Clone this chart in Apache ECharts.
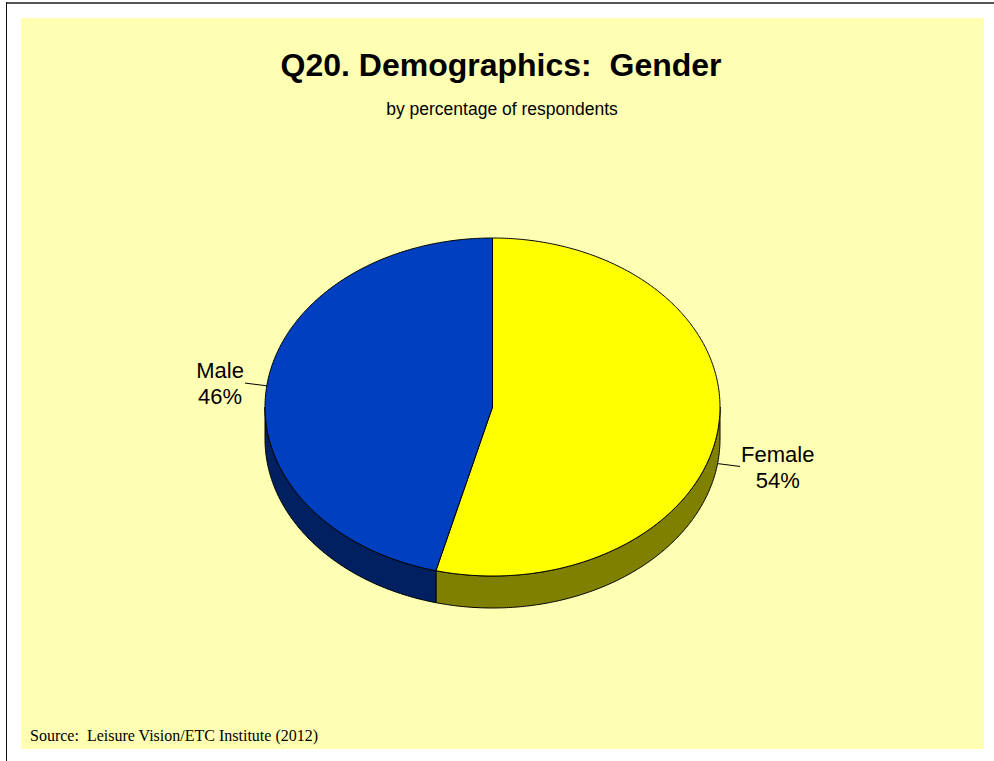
<!DOCTYPE html>
<html>
<head>
<meta charset="utf-8">
<title>Q20. Demographics: Gender</title>
<script src="https://cdn.jsdelivr.net/npm/echarts@6/dist/echarts.min.js"></script>
<style>
  html, body { margin: 0; padding: 0; background: #ffffff; }
  #chart { width: 994px; height: 761px; }
</style>
</head>
<body>
<div id="chart"></div>
<script>
// Survey answers (share of respondents, %)
const categories = ['Female', 'Male'];
const percentages = [54, 46];

// Slice styling: face colour and darker wall colour
const faceColors = ['#FFFF00', '#0040C0'];
const wallColors = ['#808000', '#002060'];

// Tilted pie geometry (pixels)
const PIE = { cx: 492.5, cy: 407, rx: 227.5, ry: 169, depth: 32 };
const LABEL_FONT = '22px "Liberation Sans", Arial, sans-serif';
const LABEL_LINE_HEIGHT = 26;
const LEADER_LEN = 22;
const FRONT_ANCHOR_DROP = 3.5;

const total = percentages.reduce((a, b) => a + b, 0);

// angle measured clockwise from 12 o'clock, in degrees
function ellipsePoint(deg, dy) {
  const t = deg * Math.PI / 180;
  return [PIE.cx + PIE.rx * Math.sin(t), PIE.cy - PIE.ry * Math.cos(t) + (dy || 0)];
}
function arcPoints(a0, a1, dy) {
  const pts = [];
  const n = Math.max(2, Math.ceil(Math.abs(a1 - a0) / 0.5));
  for (let i = 0; i <= n; i++) pts.push(ellipsePoint(a0 + (a1 - a0) * i / n, dy));
  return pts;
}

const measureCtx = document.createElement('canvas').getContext('2d');
function blockWidth(text) {
  measureCtx.font = LABEL_FONT;
  return Math.max.apply(null, text.split('\n').map(s => measureCtx.measureText(s).width));
}

function renderSlice(params, api) {
  const idx = params.dataIndex;
  const value = api.value(1);
  let before = 0;
  for (let i = 0; i < idx; i++) before += percentages[i];
  const a0 = before / total * 360;
  const a1 = (before + value) / total * 360;
  const children = [];

  // front wall: only the part of the rim facing the viewer (90..270 deg)
  const v0 = Math.max(a0, 90), v1 = Math.min(a1, 270);
  if (v1 > v0) {
    const pts = arcPoints(v0, v1, 0).concat(arcPoints(v1, v0, PIE.depth));
    children.push({
      type: 'polygon',
      shape: { points: pts },
      style: { fill: wallColors[idx], stroke: '#000', lineWidth: 1, lineJoin: 'round' },
      z2: 1
    });
  }

  // top face
  const top = [[PIE.cx, PIE.cy]].concat(arcPoints(a0, a1, 0));
  children.push({
    type: 'polygon',
    shape: { points: top },
    style: { fill: faceColors[idx], stroke: '#000', lineWidth: 1, lineJoin: 'round' },
    z2: 2
  });

  // leader line from the middle of the slice's outer edge, pointing outwards
  const mid = (a0 + a1) / 2;
  const front = mid > 90 && mid < 270;
  const anchor = ellipsePoint(mid, front ? PIE.depth + FRONT_ANCHOR_DROP : 0);
  const t = mid * Math.PI / 180;
  const ux = Math.sin(t), uy = -Math.cos(t);
  const len = Math.hypot(ux, uy);
  const end = [anchor[0] + LEADER_LEN * ux / len, anchor[1] + LEADER_LEN * uy / len];
  children.push({
    type: 'line',
    shape: { x1: anchor[0], y1: anchor[1], x2: end[0], y2: end[1] },
    style: { stroke: '#000', lineWidth: 1 },
    z2: 3
  });

  const text = api.value(0) + '\n' + Math.round(value) + '%';
  const w = blockWidth(text);
  const right = end[0] >= PIE.cx;
  children.push({
    type: 'text',
    x: right ? end[0] + 1 + w / 2 : end[0] - 1 - w / 2,
    y: end[1] + (front ? 1.5 : 0.5),
    style: {
      text: text,
      font: LABEL_FONT,
      fill: '#000',
      align: 'center',
      verticalAlign: 'middle',
      lineHeight: LABEL_LINE_HEIGHT
    },
    z2: 4
  });

  return { type: 'group', children: children };
}

const chart = echarts.init(document.getElementById('chart'), null, { renderer: 'svg' });

chart.setOption({
  backgroundColor: '#ffffff',
  animation: false,
  title: [
    {
      text: 'Q20. Demographics:\u00a0 Gender',
      left: 501,
      textAlign: 'center',
      top: 49,
      padding: 0,
      textStyle: { fontFamily: '"Liberation Sans", Arial, sans-serif', fontSize: 32, fontWeight: 'bold', color: '#000' }
    },
    {
      text: 'by percentage of respondents',
      left: 502,
      textAlign: 'center',
      top: 100,
      padding: 0,
      textStyle: { fontFamily: '"Liberation Sans", Arial, sans-serif', fontSize: 17.5, fontWeight: 'normal', color: '#000' }
    }
  ],
  graphic: [
    { type: 'rect', shape: { x: 21, y: 18, width: 963, height: 731 }, style: { fill: '#FFFFB3' }, z: -10 },
    { type: 'line', shape: { x1: 6, y1: 3, x2: 994, y2: 3 }, style: { stroke: '#555555', lineWidth: 2 }, z: -9 },
    { type: 'line', shape: { x1: 6.5, y1: 2, x2: 6.5, y2: 761 }, style: { stroke: '#111111', lineWidth: 1 }, z: -9 },
    {
      type: 'text', x: 30, y: 735,
      style: {
        text: 'Source:\u00a0 Leisure Vision/ETC Institute (2012)',
        font: '16px "Liberation Serif", "Times New Roman", serif',
        fill: '#000', align: 'left', verticalAlign: 'middle'
      },
      z: 5
    }
  ],
  series: [{
    type: 'custom',
    coordinateSystem: 'none',
    renderItem: renderSlice,
    data: categories.map((c, i) => [c, percentages[i]])
  }]
});
</script>
</body>
</html>
